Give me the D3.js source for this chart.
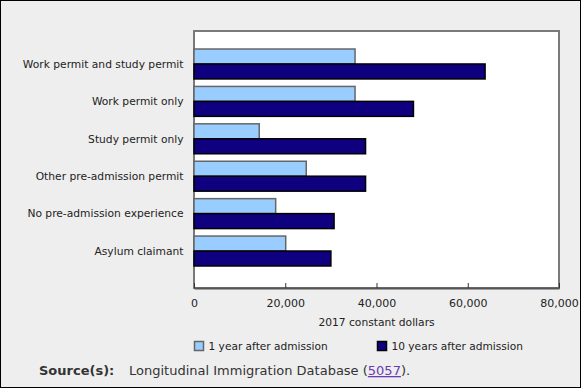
<!DOCTYPE html>
<html lang="en">

<head>
    <meta charset="UTF-8">
    <title>Earnings by pre-admission experience</title>
    <script src="https://d3js.org/d3.v7.min.js"></script>
    <style>
        body { margin: 0; background: #fff; }
        text { font-family: "DejaVu Sans", Verdana, sans-serif; }
    </style>
</head>

<body>
    <div id="chart"></div>

    <script>
        // categories, top to bottom
        var categories = ["Work permit and study permit", "Work permit only", "Study permit only",
            "Other pre-admission permit", "No pre-admission experience", "Asylum claimant"];
        var seriesNames = ["1 year after admission", "10 years after admission"];
        var oneYear = [35300, 35300, 14300, 24600, 17900, 20100];
        var tenYears = [63800, 48100, 37600, 37600, 30700, 30000];
        var xTicks = [0, 20000, 40000, 60000, 80000];

        var W = 581, H = 388;
        var margin = { top: 31, right: 22, bottom: 100, left: 194 },
            width = W - margin.left - margin.right,
            height = H - margin.top - margin.bottom;

        var svg = d3.select("#chart").append("svg")
            .attr("width", W)
            .attr("height", H);

        // background and outer frame
        svg.append("rect")
            .attr("x", 0.5).attr("y", 0.5)
            .attr("width", W - 1).attr("height", H - 1)
            .attr("fill", "#eeeeee")
            .attr("stroke", "#000");

        var g = svg.append("g")
            .attr("transform", "translate(" + margin.left + "," + margin.top + ")");

        var x = d3.scaleLinear().domain([0, 80000]).range([0, width]);
        var y = d3.scaleBand().domain(categories).range([0, height])
            .paddingInner(0.2).paddingOuter(0.535).align(0.45);
        var sub = d3.scaleBand().domain(seriesNames).range([0, y.bandwidth()]);
        var colors = { fill: ["#99ccff", "#0f0080"], stroke: ["#666666", "#000000"] };

        // plot area
        g.append("rect")
            .attr("width", width).attr("height", height)
            .attr("fill", "#fff")
            .attr("stroke", "#7a7a7a")
            .attr("stroke-width", 2);

        var data = categories.map(function (c, i) {
            return { cat: c, values: [oneYear[i], tenYears[i]] };
        });

        // bars
        var groups = g.selectAll(".cat")
            .data(data)
            .enter().append("g")
            .attr("class", "cat")
            .attr("transform", function (d) { return "translate(0," + y(d.cat) + ")"; });

        groups.selectAll("rect")
            .data(function (d) { return d.values.map(function (v, j) { return { v: v, s: seriesNames[j], j: j }; }); })
            .enter().append("rect")
            .attr("x", x(0))
            .attr("y", function (d) { return sub(d.s); })
            .attr("width", function (d) { return x(d.v) - x(0); })
            .attr("height", sub.bandwidth())
            .attr("fill", function (d) { return colors.fill[d.j]; })
            .attr("stroke", function (d) { return colors.stroke[d.j]; })
            .attr("stroke-width", 1.5);

        // category labels
        g.selectAll(".catLabel")
            .data(categories)
            .enter().append("text")
            .attr("class", "catLabel")
            .attr("x", -10.5)
            .attr("y", function (d) { return y(d) + y.bandwidth() / 2; })
            .attr("dy", "0.35em")
            .attr("text-anchor", "end")
            .attr("font-size", 10.7)
            .attr("fill", "#222")
            .text(function (d) { return d; });

        // x axis, ticks pointing into the plot
        var xAxis = g.append("g")
            .attr("transform", "translate(0," + height + ")")
            .call(d3.axisBottom(x).tickValues(xTicks).tickSizeInner(-5).tickSizeOuter(0)
                .tickPadding(11).tickFormat(d3.format(",")));
        xAxis.select(".domain").attr("stroke", "#555").attr("stroke-width", 2);
        xAxis.selectAll(".tick line").attr("stroke", "#333");
        xAxis.selectAll(".tick text")
            .attr("font-size", 11)
            .attr("font-family", "DejaVu Sans, Verdana, sans-serif")
            .attr("fill", "#222");

        g.append("text")
            .attr("x", width / 2)
            .attr("y", height + 38)
            .attr("text-anchor", "middle")
            .attr("font-size", 10.7)
            .attr("fill", "#222")
            .text("2017 constant dollars");

        // legend
        var legend = svg.selectAll(".legend")
            .data(seriesNames)
            .enter().append("g")
            .attr("class", "legend")
            .attr("transform", function (d, i) { return "translate(" + (194.5 + i * 183) + ",341.5)"; });
        legend.append("rect")
            .attr("width", 9).attr("height", 9)
            .attr("fill", function (d, i) { return colors.fill[i]; })
            .attr("stroke", function (d, i) { return i == 0 ? "#666" : "#000"; })
            .attr("stroke-width", 1.5);
        legend.append("text")
            .attr("x", 14)
            .attr("y", 8.5)
            .attr("font-size", 10.6)
            .attr("fill", "#222")
            .text(function (d) { return d; });

        // source line
        var src = svg.append("text")
            .attr("x", 39)
            .attr("y", 375)
            .attr("font-size", 13)
            .attr("fill", "#333");
        src.append("tspan").attr("font-weight", "bold").text("Source(s):");
        src.append("tspan").attr("x", 129).text("Longitudinal Immigration Database (");
        src.append("tspan").attr("fill", "#6a3ab8").attr("text-decoration", "underline").text("5057");
        src.append("tspan").text(").");
    </script>
</body>

</html>
